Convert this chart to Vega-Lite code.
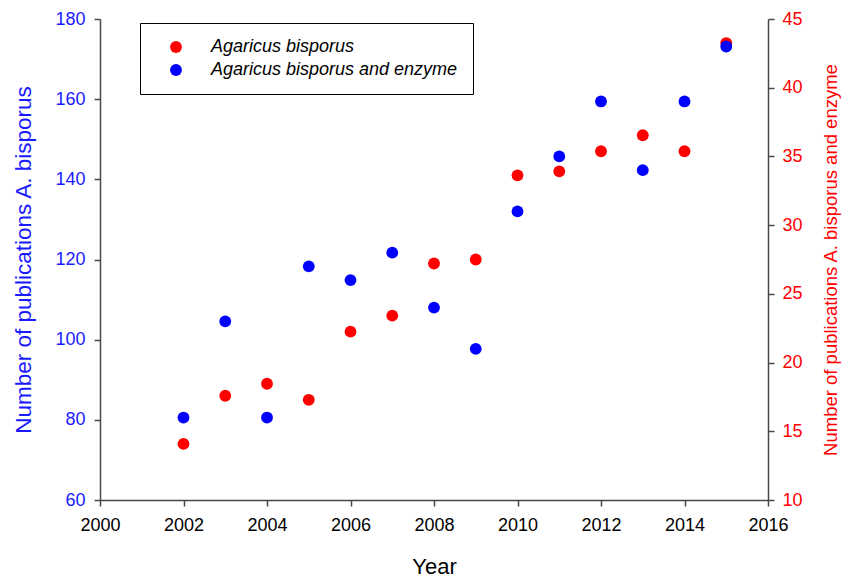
{
  "$schema": "https://vega.github.io/schema/vega-lite/v6.json",
  "width": 668,
  "height": 481,
  "autosize": {"type": "none"},
  "padding": {"left": 100, "top": 19, "right": 86, "bottom": 79},
  "background": "white",
  "config": {
    "font": "Liberation Sans",
    "view": {"stroke": null},
    "axis": {
      "grid": false,
      "domainColor": "#484848",
      "domainWidth": 1.5,
      "tickColor": "#484848",
      "tickWidth": 1.5,
      "tickSize": 6,
      "labelFontSize": 18,
      "titleFontSize": 22,
      "titleFontWeight": "normal",
      "labelPadding": 5,
      "labelFlush": false,
      "labelOverlap": false
    },
    "legend": {"strokeColor": "black"}
  },
  "data": {
    "values": [
      {"year": 2002, "series": "Agaricus bisporus", "count": 74},
      {"year": 2003, "series": "Agaricus bisporus", "count": 86},
      {"year": 2004, "series": "Agaricus bisporus", "count": 89},
      {"year": 2005, "series": "Agaricus bisporus", "count": 85},
      {"year": 2006, "series": "Agaricus bisporus", "count": 102},
      {"year": 2007, "series": "Agaricus bisporus", "count": 106},
      {"year": 2008, "series": "Agaricus bisporus", "count": 119},
      {"year": 2009, "series": "Agaricus bisporus", "count": 120},
      {"year": 2010, "series": "Agaricus bisporus", "count": 141},
      {"year": 2011, "series": "Agaricus bisporus", "count": 142},
      {"year": 2012, "series": "Agaricus bisporus", "count": 147},
      {"year": 2013, "series": "Agaricus bisporus", "count": 151},
      {"year": 2014, "series": "Agaricus bisporus", "count": 147},
      {"year": 2015, "series": "Agaricus bisporus", "count": 174},
      {"year": 2002, "series": "Agaricus bisporus and enzyme", "count": 16},
      {"year": 2003, "series": "Agaricus bisporus and enzyme", "count": 23},
      {"year": 2004, "series": "Agaricus bisporus and enzyme", "count": 16},
      {"year": 2005, "series": "Agaricus bisporus and enzyme", "count": 27},
      {"year": 2006, "series": "Agaricus bisporus and enzyme", "count": 26},
      {"year": 2007, "series": "Agaricus bisporus and enzyme", "count": 28},
      {"year": 2008, "series": "Agaricus bisporus and enzyme", "count": 24},
      {"year": 2009, "series": "Agaricus bisporus and enzyme", "count": 21},
      {"year": 2010, "series": "Agaricus bisporus and enzyme", "count": 31},
      {"year": 2011, "series": "Agaricus bisporus and enzyme", "count": 35},
      {"year": 2012, "series": "Agaricus bisporus and enzyme", "count": 39},
      {"year": 2013, "series": "Agaricus bisporus and enzyme", "count": 34},
      {"year": 2014, "series": "Agaricus bisporus and enzyme", "count": 39},
      {"year": 2015, "series": "Agaricus bisporus and enzyme", "count": 43}
    ]
  },
  "encoding": {
    "x": {
      "field": "year",
      "type": "quantitative",
      "scale": {"domain": [2000, 2016], "nice": false, "zero": false},
      "axis": {
        "title": "Year",
        "values": [2000, 2002, 2004, 2006, 2008, 2010, 2012, 2014, 2016],
        "format": "d",
        "labelColor": "black",
        "titleColor": "black",
        "labelPadding": 10,
        "titlePadding": 22
      }
    },
    "color": {
      "field": "series",
      "type": "nominal",
      "scale": {
        "domain": ["Agaricus bisporus", "Agaricus bisporus and enzyme"],
        "range": ["#ff0000", "#0000ff"]
      },
      "legend": {
        "title": null,
        "orient": "none",
        "legendX": 40,
        "legendY": 4,
        "direction": "vertical",
        "fillColor": "white",
        "strokeColor": "black",
        "padding": 15,
        "symbolType": "circle",
        "symbolSize": 140,
        "symbolStrokeWidth": 0,
        "symbolOffset": 12,
        "labelFontSize": 18,
        "labelFontStyle": "italic",
        "labelColor": "black",
        "labelOffset": 26,
        "rowPadding": 5,
        "labelLimit": 400
      }
    }
  },
  "layer": [
    {
      "transform": [{"filter": "datum.series === 'Agaricus bisporus'"}],
      "mark": {"type": "point", "filled": true, "shape": "circle", "size": 140, "opacity": 1},
      "encoding": {
        "y": {
          "field": "count",
          "type": "quantitative",
          "scale": {"domain": [60, 180], "nice": false, "zero": false},
          "axis": {
            "orient": "left",
            "title": "Number of publications A. bisporus",
            "values": [60, 80, 100, 120, 140, 160, 180],
            "labelColor": "#1a1aff",
            "titleColor": "#1a1aff",
            "titleFontSize": 22.5,
            "labelPadding": 9,
            "titlePadding": 19
          }
        }
      }
    },
    {
      "transform": [{"filter": "datum.series === 'Agaricus bisporus and enzyme'"}],
      "mark": {"type": "point", "filled": true, "shape": "circle", "size": 140, "opacity": 1},
      "encoding": {
        "y": {
          "field": "count",
          "type": "quantitative",
          "scale": {"domain": [10, 45], "nice": false, "zero": false},
          "axis": {
            "orient": "right",
            "title": "Number of publications A. bisporus and enzyme",
            "values": [10, 15, 20, 25, 30, 35, 40, 45],
            "labelColor": "#ff0000",
            "titleColor": "#ff0000",
            "titleFontSize": 18.5,
            "titleAngle": 270,
            "labelPadding": 8,
            "titlePadding": 38
          }
        }
      }
    }
  ],
  "resolve": {"scale": {"y": "independent"}}
}
